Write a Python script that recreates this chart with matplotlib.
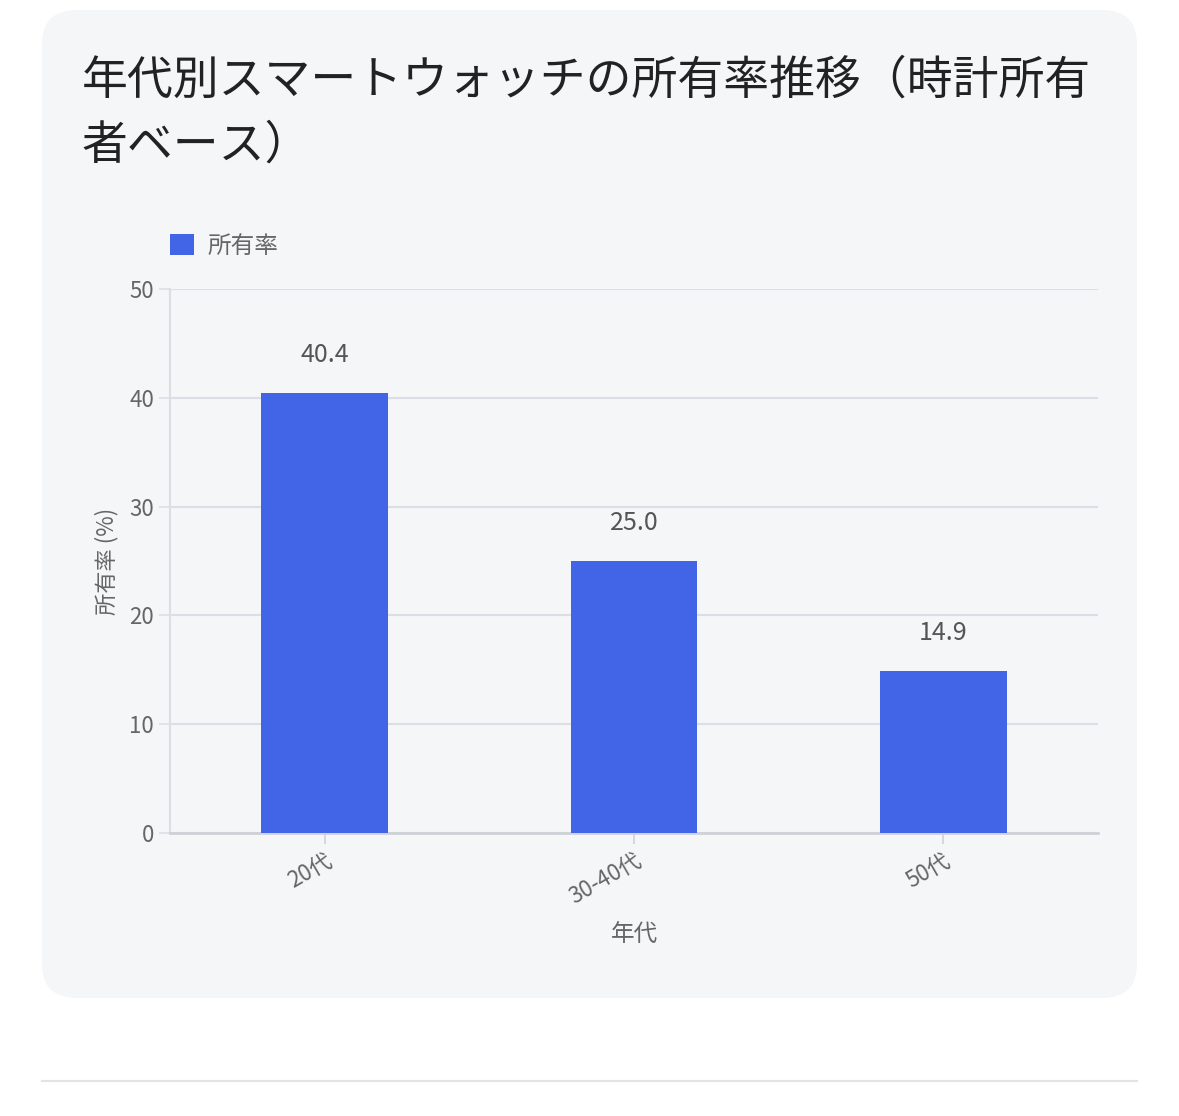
import matplotlib.pyplot as plt
from matplotlib.patches import FancyBboxPatch
from matplotlib.lines import Line2D

plt.rcParams['font.family'] = ['Noto Sans CJK JP', 'DejaVu Sans']

categories = ['20代', '30-40代', '50代']
values = [40.4, 25.0, 14.9]
series_name = '所有率'

fig = plt.figure(figsize=(11.79, 11.16), dpi=100)
fig.patch.set_facecolor('white')

# card background
card = FancyBboxPatch((42 / 1179, 1 - 998 / 1116), 1095 / 1179, 988 / 1116,
                      boxstyle='round,pad=0,rounding_size=0.03',
                      transform=fig.transFigure, facecolor='#f5f6f8',
                      edgecolor='none', zorder=-5)
fig.patches.append(card)
fig.lines.append(Line2D([42 / 1179, 1137 / 1179], [1 - 1081 / 1116] * 2,
                        transform=fig.transFigure, color='#e3e3e6', lw=1.5))

fig.text(82 / 1179, 1 - 80 / 1116, '年代別スマートウォッチの所有率推移（時計所有',
         fontsize=33, color='#222222', va='center')
fig.text(82 / 1179, 1 - 145 / 1116, '者ベース）',
         fontsize=33, color='#222222', va='center')

ax = fig.add_axes([170 / 1179, 1 - 833 / 1116, 928 / 1179, 544 / 1116], zorder=2)
ax.set_facecolor('none')
x = range(len(categories))
bars = ax.bar(x, values, width=0.41, color='#4165e6', label=series_name, zorder=3)
for b, v in zip(bars, values):
    ax.text(b.get_x() + b.get_width() / 2, v + 2.3, f'{v:.1f}',
            ha='center', va='bottom', fontsize=18, color='#555555')

ax.set_xlim(-0.5, 2.5)
ax.set_ylim(0, 50)
ax.set_yticks(range(0, 51, 10))
ax.set_xticks(list(x))
ax.set_xticklabels(categories, rotation=30, ha='right', rotation_mode='anchor')
ax.grid(axis='y', color='#dcdee6', lw=1.5, zorder=0)
ax.tick_params(axis='both', labelsize=16, colors='#666666', length=8, width=1.2)
ax.tick_params(axis='y', color='#dcdee6')
ax.tick_params(axis='x', color='#cfd1d8')
for s in ['top', 'right']:
    ax.spines[s].set_visible(False)
ax.spines['left'].set_color('#dcdee6')
ax.spines['bottom'].set_color('#cfd1d8')
ax.spines['left'].set_linewidth(1.5)
ax.spines['bottom'].set_linewidth(2)
ax.set_ylabel('所有率 (%)', fontsize=16, color='#666666', labelpad=8)
ax.set_xlabel('年代', fontsize=17, color='#666666', labelpad=10)

ax.legend(loc='lower left', bbox_to_anchor=(-0.01, 1.04), frameon=False,
          fontsize=17, labelcolor='#666666', handlelength=1.0, handleheight=1.0,
          handletextpad=0.6, borderaxespad=0)

fig.savefig('out.png', dpi=100, facecolor='white')
